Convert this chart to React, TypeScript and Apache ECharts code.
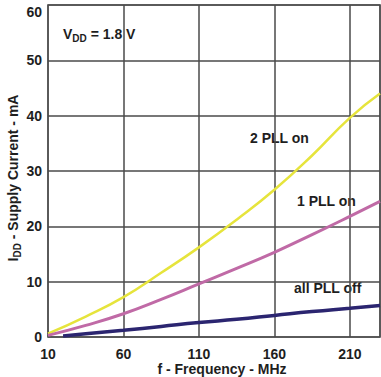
import React, { useEffect, useRef } from "react";
import * as echarts from "echarts";

const freq = [10, 35, 60, 85, 110, 135, 160, 185, 210, 230];
const pll2 = [0.6, 3.7, 7.2, 11.6, 16.2, 21.2, 26.6, 32.8, 39.6, 44.0];
const pll1 = [0.3, 2.1, 4.2, 6.8, 9.6, 12.4, 15.3, 18.5, 21.8, 24.5];
const offFreq = [20, 35, 60, 85, 110, 135, 160, 185, 210, 230];
const pllOff = [0.2, 0.58, 1.2, 1.9, 2.6, 3.2, 3.9, 4.6, 5.2, 5.7];
const xTicks = [10, 60, 110, 160, 210];
const yTicks = [0, 10, 20, 30, 40, 50, 60];

const FONT = "'Liberation Sans', Arial, sans-serif";
const TXT = "#1e1e1e";

export default function App() {
  const ref = useRef<HTMLDivElement>(null);
  useEffect(() => {
    if (!ref.current) return;
    const chart = echarts.init(ref.current, null, { renderer: "svg" });
    const pair = (xs: number[], ys: number[]) => xs.map((x, i) => [x, ys[i]]);
    const labelStyle = {
      fontFamily: FONT,
      fontSize: 14,
      fontWeight: "bold",
      fill: TXT,
      backgroundColor: "#fff",
      padding: [2, 3],
    };
    const richTxt = {
      m: { fontFamily: FONT, fontSize: 14, fontWeight: "bold", fill: TXT, lineHeight: 18 },
      s: { fontFamily: FONT, fontSize: 10, fontWeight: "bold", fill: TXT, lineHeight: 18, padding: [8, 0, 0, 0] },
    };
    const yMax = yTicks[yTicks.length - 1];
    chart.setOption({
      animation: false,
      grid: {
        left: 48,
        top: 5,
        right: 1,
        bottom: 40,
        show: true,
        borderColor: "#8a8a8a",
        borderWidth: 2,
        containLabel: false,
        outerBoundsMode: "none",
      },
      xAxis: {
        type: "value",
        min: 10,
        max: 230,
        interval: 50,
        axisLine: { show: false },
        axisTick: { show: false },
        axisLabel: {
          fontFamily: FONT,
          fontSize: 14,
          fontWeight: "bold",
          color: TXT,
          margin: 10,
          showMaxLabel: false,
          formatter: (v: number) => (xTicks.includes(v) ? String(v) : ""),
        },
        splitLine: { show: true, lineStyle: { color: "#4a4a4a", width: 1.5 } },
      },
      yAxis: {
        type: "value",
        min: 0,
        max: yMax,
        interval: 10,
        axisLine: { show: false },
        axisTick: { show: false },
        axisLabel: {
          fontFamily: FONT,
          fontSize: 14,
          fontWeight: "bold",
          color: TXT,
          margin: 6,
          formatter: (v: number) =>
            v === yMax ? `{t|${v}}` : yTicks.includes(v) ? String(v) : "",
          rich: {
            t: { fontFamily: FONT, fontSize: 14, fontWeight: "bold", color: TXT, padding: [14, 0, 0, 0] },
          },
        },
        splitLine: { show: true, lineStyle: { color: "#4a4a4a", width: 1.5 } },
      },
      graphic: [
        {
          type: "text",
          x: 13,
          y: 178,
          rotation: Math.PI / 2,
          style: {
            text: "{m|I}{s|DD}{m| - Supply Current - mA}",
            align: "center",
            verticalAlign: "middle",
            rich: richTxt,
          },
        },
        {
          type: "text",
          x: 222,
          y: 369,
          style: {
            text: "f - Frequency - MHz",
            align: "center",
            verticalAlign: "middle",
            fontFamily: FONT,
            fontSize: 14,
            fontWeight: "bold",
            fill: TXT,
          },
        },
        {
          type: "text",
          left: 60,
          top: 23,
          style: {
            text: "{m|V}{s|DD}{m| = 1.8 V}",
            backgroundColor: "#fff",
            padding: [2, 3],
            rich: richTxt,
          },
        },
        { type: "text", left: 247, top: 129, style: { ...labelStyle, text: "2 PLL on" } },
        { type: "text", left: 294, top: 192, style: { ...labelStyle, text: "1 PLL on" } },
        { type: "text", left: 291, top: 279, style: { ...labelStyle, text: "all PLL off" } },
      ],
      series: [
        {
          type: "line",
          name: "2 PLL on",
          data: pair(freq, pll2),
          smooth: true,
          showSymbol: false,
          lineStyle: { color: "#e6e43c", width: 2.5 },
        },
        {
          type: "line",
          name: "1 PLL on",
          data: pair(freq, pll1),
          smooth: true,
          showSymbol: false,
          lineStyle: { color: "#c06aa6", width: 3 },
        },
        {
          type: "line",
          name: "all PLL off",
          data: pair(offFreq, pllOff),
          smooth: true,
          showSymbol: false,
          lineStyle: { color: "#2b2570", width: 3.5 },
        },
      ],
    });
    return () => chart.dispose();
  }, []);
  return (
    <div
      ref={ref}
      style={{ position: "absolute", left: 0, top: 0, width: 381, height: 377, background: "#fff" }}
    />
  );
}
